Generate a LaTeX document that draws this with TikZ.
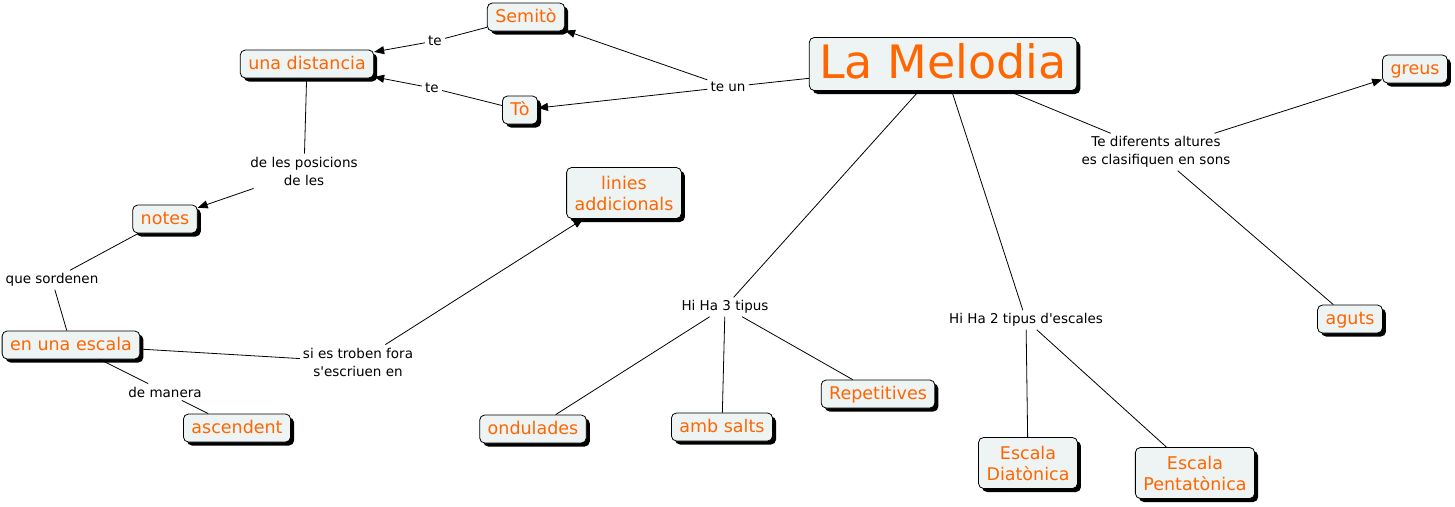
\documentclass[tikz,border=0pt]{standalone}
\usepackage{fontspec}
\setmainfont{DejaVu Sans}
\usetikzlibrary{arrows.meta,shadows}

\definecolor{conceptfill}{RGB}{238,243,244}
\definecolor{conceptorange}{RGB}{255,102,0}

\tikzset{
  conceptbox/.style={draw=black, line width=0.8pt, fill=conceptfill, rounded corners=5pt,
    text=conceptorange, font=\fontsize{17.5}{21}\selectfont, align=center,
    inner xsep=8pt, inner ysep=5.5pt,
    drop shadow={shadow xshift=3.5pt, shadow yshift=-3.5pt, fill=black, opacity=1}},
  concept/.style={conceptbox, text height=13.5pt, text depth=3.5pt},
  twoconcept/.style={conceptbox, minimum height=51pt},
  mainconcept/.style={concept, font=\fontsize{46}{50}\selectfont,
    inner xsep=10pt, inner ysep=8pt, text height=33pt, text depth=4pt},
  phrase/.style={font=\fontsize{13.5}{18}\selectfont, align=center, inner sep=3pt},
  link/.style={line width=0.8pt, black},
  linkarrow/.style={link, -{Triangle[length=10pt,width=8pt]}},
}

\begin{document}
\begin{tikzpicture}[x=1pt, y=-1pt]
  \fill[white] (0,0) rectangle (1455,506);
  \useasboundingbox (0,0) rectangle (1455,506);

  % concepts
  \node[mainconcept] (melodia) at (943,64) {La Melodia};
  \node[concept] (semito) at (526,17) {Semitò};
  \node[concept] (to) at (520,110) {Tò};
  \node[concept] (distancia) at (307,64) {una distancia};
  \node[concept] (notes) at (165,219) {notes};
  \node[concept] (escala) at (71,345) {en una escala};
  \node[concept] (ascendent) at (237,428) {ascendent};
  \node[twoconcept] (linies) at (624,193) {linies\\addicionals};
  \node[concept] (ondulades) at (533,429) {ondulades};
  \node[concept] (salts) at (722,427) {amb salts};
  \node[concept] (repetitives) at (878,394) {Repetitives};
  \node[twoconcept] (diatonica) at (1028,463) {Escala\\Diatònica};
  \node[twoconcept] (pentatonica) at (1195,473) {Escala\\Pentatònica};
  \node[concept] (greus) at (1415,69) {greus};
  \node[concept] (aguts) at (1350,319) {aguts};

  % linking phrases
  \node[phrase] (teun) at (728,87) {te un};
  \node[phrase] (te1) at (435,41) {te};
  \node[phrase] (te2) at (432,88) {te};
  \node[phrase] (posicions) at (304,171) {de les posicions\\de les};
  \node[phrase] (sordenen) at (52,280) {que sordenen};
  \node[phrase] (manera) at (165,392) {de manera};
  \node[phrase] (fora) at (358,362) {si es troben fora\\s\textquotesingle escriuen en};
  \node[phrase] (tipus3) at (725,307) {Hi Ha 3 tipus};
  \node[phrase] (tipus2) at (1026,320) {Hi Ha 2 tipus d\textquotesingle escales};
  \node[phrase] (altures) at (1156,152) {Te diferents altures\\es clasifiquen en sons};

  % connections
  \draw[link] (melodia) -- (teun);
  \draw[linkarrow] (teun) -- (semito);
  \draw[linkarrow] (teun) -- (to);
  \draw[link] (semito) -- (te1);
  \draw[linkarrow] (te1) -- (distancia);
  \draw[link] (to) -- (te2);
  \draw[linkarrow] (te2) -- (distancia);
  \draw[link] (distancia) -- (posicions);
  \draw[linkarrow] (posicions) -- (notes);
  \draw[link] (notes) -- (sordenen);
  \draw[link] (sordenen) -- (escala);
  \draw[link] (escala) -- (manera);
  \draw[link] (manera) -- (ascendent);
  \draw[link] (escala) -- (fora);
  \draw[linkarrow] (fora) -- (linies);
  \draw[link] (melodia) -- (tipus3);
  \draw[link] (tipus3) -- (ondulades);
  \draw[link] (tipus3) -- (salts);
  \draw[link] (tipus3) -- (repetitives);
  \draw[link] (melodia) -- (tipus2);
  \draw[link] (tipus2) -- (diatonica);
  \draw[link] (tipus2) -- (pentatonica);
  \draw[link] (melodia) -- (altures);
  \draw[linkarrow] (altures) -- (greus);
  \draw[link] (altures) -- (aguts);
\end{tikzpicture}
\end{document}
